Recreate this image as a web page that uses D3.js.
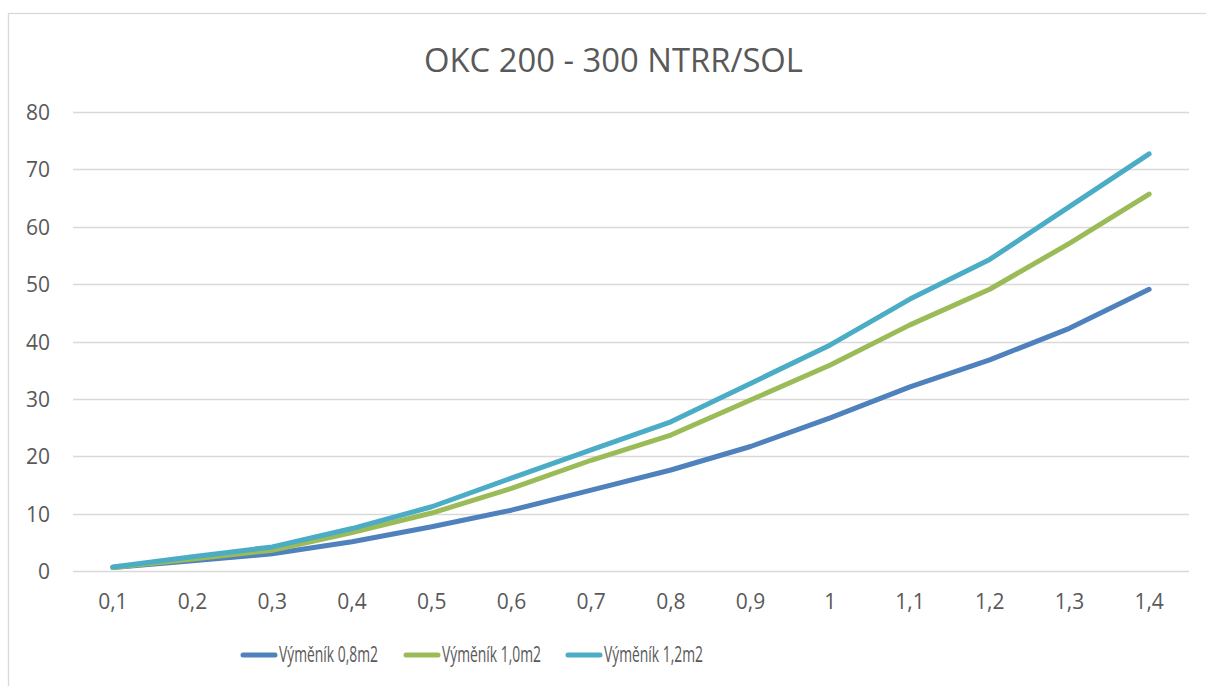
<!DOCTYPE html>
<html><head><meta charset="utf-8">
<script src="https://cdn.jsdelivr.net/npm/d3@7/dist/d3.min.js"></script>
<style>body{margin:0;background:#fff}svg{display:block}</style>
</head><body><svg id="c" width="1206" height="686"></svg>
<script>
const title = "OKC 200 - 300 NTRR/SOL";
const categories = ["0,1","0,2","0,3","0,4","0,5","0,6","0,7","0,8","0,9","1","1,1","1,2","1,3","1,4"];
const seriesNames = ["Výměník 0,8m2","Výměník 1,0m2","Výměník 1,2m2"];
const s08 = [0.6,1.8,3.0,5.1,7.7,10.6,14.1,17.6,21.7,26.7,32.1,36.8,42.3,49.1];
const s10 = [0.6,2.1,3.6,6.7,10.1,14.4,19.3,23.7,29.8,35.9,42.9,49.1,57.1,65.7];
const s12 = [0.7,2.5,4.2,7.4,11.2,16.2,21.1,26.0,32.7,39.4,47.4,54.3,63.5,72.7];
const yTicks = [0,10,20,30,40,50,60,70,80];
const colors = ["#4f81bd","#9bbb59","#4bacc6"];
const seriesValues = [s08, s10, s12];

const svg = d3.select("#c");
const font = "'Open Sans', 'Noto Sans', sans-serif";
const txt = "#595959";

svg.append("rect").attr("x",8.5).attr("y",13.5).attr("width",1400).attr("height",1000)
  .attr("fill","#fff").attr("stroke","#d9d9d9").attr("stroke-width",1.3);

const x = d3.scaleBand().domain(categories).range([73,1189]);
const y = d3.scaleLinear().domain([0,80]).range([571,112]);

// gridlines
svg.append("g").selectAll("line").data(yTicks).join("line")
  .attr("x1",73).attr("x2",1189)
  .attr("y1",d=>Math.round(y(d))+0.5).attr("y2",d=>Math.round(y(d))+0.5)
  .attr("stroke","#d9d9d9").attr("stroke-width",1.3);

// y axis labels
const yAxis = d3.axisLeft(y).tickValues(yTicks).tickSize(0).tickPadding(0);
const gy = svg.append("g").attr("transform","translate(50,0)").call(yAxis);
gy.select(".domain").remove();
gy.selectAll("text").attr("font-family",font).attr("font-size",21).attr("fill",txt).attr("dy","0.36em");

// x axis labels
const xAxis = d3.axisBottom(x).tickSize(0).tickPadding(0);
const gx = svg.append("g").attr("transform","translate(0,609)").call(xAxis);
gx.select(".domain").remove();
gx.selectAll("text").attr("font-family",font).attr("font-size",21).attr("fill",txt).attr("dy","0");

// lines
const line = d3.line().x((d,i)=>x(categories[i])+x.bandwidth()/2).y(d=>y(d));
svg.append("g").selectAll("path").data(seriesValues).join("path")
  .attr("d",line).attr("fill","none")
  .attr("stroke",(d,i)=>colors[i]).attr("stroke-width",5)
  .attr("stroke-linecap","round").attr("stroke-linejoin","round");

// title
const t = svg.append("text").attr("x",613.5).attr("y",72).attr("text-anchor","middle")
  .attr("font-family",font).attr("font-size",26).attr("fill",txt).text(title);
const tw = t.node().getComputedTextLength();
t.attr("font-size", 26*379/tw);

// legend
const legX = [241,404,566];
const lg = svg.append("g");
seriesNames.forEach((n,i)=>{
  lg.append("line").attr("x1",legX[i]+2).attr("x2",legX[i]+34).attr("y1",655).attr("y2",655)
    .attr("stroke",colors[i]).attr("stroke-width",5).attr("stroke-linecap","round");
  lg.append("text").attr("x",legX[i]+38).attr("y",662)
    .attr("font-family",font).attr("font-size",21).attr("fill",txt)
    .attr("textLength",99).attr("lengthAdjust","spacingAndGlyphs").text(n);
});
</script></body></html>
